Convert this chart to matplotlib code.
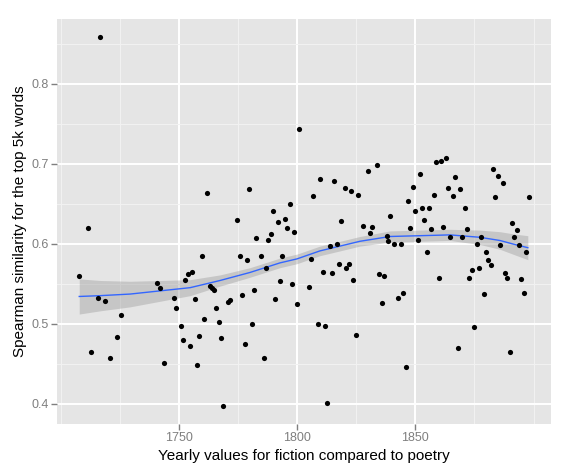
import numpy as np
import matplotlib
matplotlib.use('Agg')
import matplotlib.pyplot as plt
from matplotlib.ticker import MultipleLocator

# yearly values
years = [1707.9, 1711.8, 1712.8, 1715.8, 1716.7, 1718.9, 1720.8, 1723.8, 1725.7,
         1740.8, 1742.0, 1743.8, 1747.9, 1748.9, 1750.8, 1751.8, 1752.8, 1753.8,
         1754.8, 1755.7, 1756.9, 1757.7, 1758.7, 1759.8, 1760.7, 1761.8, 1763.2,
         1764.1, 1764.8, 1765.8, 1766.8, 1767.8, 1768.6, 1770.8, 1771.8, 1774.8,
         1775.8, 1776.9, 1777.9, 1778.7, 1779.8, 1780.9, 1782.0, 1782.8, 1784.8,
         1785.9, 1786.8, 1787.9, 1788.9, 1789.9, 1790.8, 1791.8, 1792.8, 1793.8,
         1794.8, 1795.8, 1796.9, 1797.9, 1798.7, 1799.9, 1800.8, 1804.9, 1805.8,
         1806.8, 1808.9, 1809.8, 1810.9, 1811.8, 1812.8, 1813.9, 1814.8, 1815.8,
         1816.9, 1817.9, 1818.7, 1820.1, 1820.8, 1821.8, 1822.8, 1823.8, 1824.9,
         1825.9, 1827.8, 1829.9, 1830.9, 1831.8, 1833.8, 1834.8, 1835.8, 1836.9,
         1837.9, 1838.6, 1839.3, 1841.0, 1842.8, 1844.0, 1844.8, 1845.9, 1846.9,
         1847.8, 1848.9, 1849.9, 1851.0, 1851.9, 1852.8, 1853.8, 1854.9, 1855.9,
         1856.8, 1857.8, 1858.9, 1859.9, 1860.9, 1861.8, 1862.8, 1863.9, 1864.8,
         1865.9, 1866.9, 1867.9, 1868.9, 1869.9, 1870.9, 1871.9, 1872.8, 1873.8,
         1874.9, 1875.9, 1876.9, 1877.9, 1878.9, 1879.9, 1880.9, 1881.9, 1882.8,
         1883.8, 1884.8, 1885.8, 1886.9, 1887.9, 1888.9, 1889.9, 1891.0, 1891.8,
         1892.9, 1893.8, 1894.9, 1895.9, 1896.9, 1897.9]
similarity = [0.560, 0.619, 0.464, 0.532, 0.858, 0.528, 0.457, 0.483, 0.511,
              0.551, 0.545, 0.451, 0.532, 0.520, 0.497, 0.479, 0.555, 0.562,
              0.472, 0.565, 0.531, 0.448, 0.485, 0.585, 0.506, 0.663, 0.547,
              0.545, 0.542, 0.520, 0.502, 0.482, 0.397, 0.527, 0.529, 0.630,
              0.585, 0.536, 0.474, 0.579, 0.669, 0.500, 0.542, 0.607, 0.584,
              0.457, 0.570, 0.605, 0.612, 0.641, 0.531, 0.627, 0.553, 0.584,
              0.631, 0.620, 0.650, 0.550, 0.615, 0.524, 0.744, 0.546, 0.581,
              0.660, 0.499, 0.681, 0.564, 0.497, 0.401, 0.597, 0.563, 0.679,
              0.599, 0.575, 0.629, 0.670, 0.569, 0.575, 0.666, 0.555, 0.486,
              0.661, 0.622, 0.691, 0.613, 0.621, 0.698, 0.562, 0.526, 0.560,
              0.610, 0.603, 0.635, 0.600, 0.532, 0.599, 0.538, 0.446, 0.653,
              0.619, 0.671, 0.641, 0.605, 0.687, 0.645, 0.630, 0.589, 0.645,
              0.618, 0.661, 0.702, 0.557, 0.704, 0.621, 0.707, 0.670, 0.608,
              0.660, 0.683, 0.470, 0.669, 0.608, 0.645, 0.618, 0.557, 0.567,
              0.496, 0.599, 0.570, 0.608, 0.537, 0.590, 0.579, 0.573, 0.694,
              0.658, 0.685, 0.598, 0.676, 0.563, 0.557, 0.465, 0.626, 0.608,
              0.617, 0.598, 0.556, 0.538, 0.590, 0.658]

# smoother and its confidence band
smooth_years = [1707.9, 1716.7, 1729.4, 1742.1, 1754.8, 1767.5, 1780.1, 1792.8,
                1800.0, 1809.7, 1818.2, 1826.6, 1839.3, 1852.0, 1864.7, 1877.3,
                1885.8, 1892.1, 1897.6]
smooth_fit = [0.534, 0.535, 0.537, 0.541, 0.545, 0.554, 0.564, 0.576, 0.581,
              0.591, 0.597, 0.603, 0.609, 0.610, 0.611, 0.608, 0.604, 0.599, 0.595]
smooth_low = [0.512, 0.516, 0.521, 0.528, 0.535, 0.547, 0.558, 0.570, 0.575,
              0.585, 0.591, 0.597, 0.602, 0.603, 0.604, 0.599, 0.593, 0.586, 0.580]
smooth_high = [0.556, 0.554, 0.553, 0.554, 0.555, 0.561, 0.570, 0.582, 0.587,
               0.597, 0.603, 0.609, 0.616, 0.617, 0.618, 0.617, 0.615, 0.612, 0.610]

x_ticks = [1750, 1800, 1850]
y_ticks = [0.4, 0.5, 0.6, 0.7, 0.8]

plt.rcParams['font.family'] = ['Liberation Sans', 'DejaVu Sans']

fig = plt.figure(figsize=(5.8, 4.73), dpi=100)
ax = fig.add_axes([57 / 580, 1 - 424 / 473, (551 - 57) / 580, (424 - 19) / 473])
ax.set_facecolor('#E5E5E5')
for s in ax.spines.values():
    s.set_visible(False)

ax.set_xlim(1698.5, 1907.4)
ax.set_ylim(0.3745, 0.881)
ax.set_xticks(x_ticks)
ax.set_yticks(y_ticks)
ax.xaxis.set_minor_locator(MultipleLocator(25))
ax.yaxis.set_minor_locator(MultipleLocator(0.05))
ax.grid(which='major', color='white', lw=1.4)
ax.grid(which='minor', color='#F2F2F2', lw=0.7)
ax.set_axisbelow(True)
ax.tick_params(which='minor', length=0)
ax.tick_params(which='major', length=4, width=1, color='#7F7F7F',
               labelcolor='#7F7F7F', labelsize=9, pad=2)

ax.fill_between(smooth_years, smooth_low, smooth_high, color='#999999', alpha=0.4, lw=0, zorder=2)
ax.plot(smooth_years, smooth_fit, color='#3366FF', lw=1.0, zorder=3)
ax.scatter(years, similarity, s=14, color='black', lw=0, zorder=4)

ax.set_xlabel('Yearly values for fiction compared to poetry', fontsize=11, labelpad=3)
ax.set_ylabel('Spearman similarity for the top 5k words', fontsize=11, labelpad=3)

fig.savefig('out.png', dpi=100)
